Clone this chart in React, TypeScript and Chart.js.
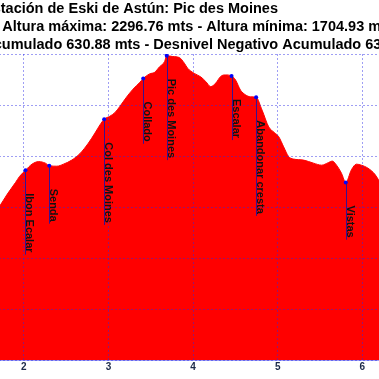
import React, { useEffect, useRef } from 'react';
import { Chart, registerables } from 'chart.js';

Chart.register(...registerables);

const titleLines = [
  'Estación de Eski de Astún: Pic des Moines',
  'Distancia: 7.0 km. - Altura máxima: 2296.76 mts - Altura mínima: 1704.93 mts',
  'Total Desnivel Positivo Acumulado 630.88 mts - Desnivel Negativo Acumulado 630.88 mts',
];

const distanceKm = [
  0, 0.25, 0.5, 0.75, 1.0, 1.25, 1.5, 1.707, 1.804, 1.902, 1.95, 2.02, 2.097, 2.176, 2.255, 2.301,
  2.391, 2.469, 2.567, 2.665, 2.762, 2.841, 2.9, 2.95, 3.017, 3.076, 3.134, 3.212, 3.29, 3.369, 3.411,
  3.486, 3.545, 3.604, 3.663, 3.689, 3.76, 3.838, 3.897, 3.936, 4.014, 4.092, 4.15, 4.209, 4.268, 4.326,
  4.381, 4.455, 4.502, 4.561, 4.619, 4.678, 4.745, 4.815, 4.894, 4.96, 5.011, 5.07, 5.128, 5.187, 5.304,
  5.422, 5.519, 5.598, 5.645, 5.695, 5.754, 5.804, 5.871, 5.93, 5.988, 6.067, 6.153, 6.3, 6.45, 6.6,
  6.75, 6.9, 7.0,
];

const elevationM = [
  1705.4, 1748, 1792, 1836, 1880, 1922, 1962, 2000, 2025, 2048, 2060, 2072, 2084, 2089, 2086, 2081,
  2080, 2084, 2092, 2105, 2125, 2145, 2161, 2172, 2178, 2185, 2197, 2215, 2231, 2244, 2252,
  2261, 2264, 2275, 2285, 2296.76, 2295, 2293, 2282, 2272, 2262, 2255, 2246, 2236, 2243, 2256,
  2259, 2257, 2249, 2229, 2220, 2216, 2215, 2190, 2157, 2146, 2138, 2118, 2099, 2094, 2092,
  2086, 2082, 2087, 2090, 2082, 2066, 2048, 2073, 2084, 2082, 2076, 2063, 2018, 1960, 1890,
  1815, 1750, 1704.93,
];

const waypointNames = [
  'Ibon Ecalar', 'Senda', 'Col des Moines', 'Collado', 'Pic des Moines', 'Escalar', 'Abandonar cresta', 'Vistas',
];
const waypointKm = [2.02, 2.301, 2.95, 3.411, 3.689, 4.455, 4.745, 5.804];
const waypointElev = [2072, 2081, 2172, 2252, 2296.76, 2257, 2215, 2048];

const distanceMin = 0;
const distanceMax = 7;
const distanceStep = 1;
const elevationMin = 1700;
const elevationMax = 2300;
const elevationStep = 100;

const GRID = 'rgba(40, 40, 230, 0.45)';
const FONT = "'Liberation Sans', Arial, Helvetica, sans-serif";

const waypointPlugin = {
  id: 'waypointLabels',
  afterDraw(chart: any) {
    const ctx = chart.ctx;
    const xs = chart.scales.x;
    const ys = chart.scales.y;
    ctx.save();
    ctx.font = `bold 11px ${FONT}`;
    waypointNames.forEach((name, i) => {
      const px = xs.getPixelForValue(waypointKm[i]);
      const py = ys.getPixelForValue(waypointElev[i]);
      const w = ctx.measureText(name).width;
      const offset = 23;
      ctx.strokeStyle = 'rgba(20, 20, 170, 0.85)';
      ctx.lineWidth = 1;
      ctx.beginPath();
      ctx.moveTo(Math.round(px) + 0.5, py);
      ctx.lineTo(Math.round(px) + 0.5, py + offset + w + 2);
      ctx.stroke();
      ctx.save();
      ctx.translate(Math.round(px) + 1, py + offset);
      ctx.rotate(Math.PI / 2);
      ctx.fillStyle = '#111111';
      ctx.textAlign = 'left';
      ctx.textBaseline = 'alphabetic';
      ctx.fillText(name, 0, 0);
      ctx.restore();
    });
    ctx.restore();
  },
};

export default function App() {
  const canvasRef = useRef<HTMLCanvasElement | null>(null);

  useEffect(() => {
    if (!canvasRef.current) return;
    const profile = distanceKm.map((d, i) => ({ x: d, y: elevationM[i] }));
    const points = waypointKm.map((d, i) => ({ x: d, y: waypointElev[i] }));
    const chart = new Chart(canvasRef.current, {
      type: 'line',
      data: {
        datasets: [
          {
            label: 'Puntos',
            data: points,
            showLine: false,
            pointRadius: 2,
            pointBackgroundColor: '#0000ff',
            pointBorderWidth: 0,
            order: 0,
          },
          {
            label: 'Altura',
            data: profile,
            fill: 'start',
            backgroundColor: '#ff0000',
            borderColor: '#ff0000',
            borderWidth: 1,
            pointRadius: 0,
            cubicInterpolationMode: 'monotone',
            order: 1,
          },
        ],
      },
      options: {
        animation: false,
        responsive: false,
        devicePixelRatio: 1,
        layout: { padding: 0 },
        plugins: {
          legend: { display: false },
          tooltip: { enabled: false },
          title: {
            display: true,
            text: titleLines,
            color: '#000000',
            align: 'center',
            font: { family: FONT, size: 14.5, weight: 'bold', lineHeight: 17.8 / 14.5 },
            padding: { top: 0.5, bottom: 0.1 },
          },
        },
        scales: {
          x: {
            type: 'linear',
            min: distanceMin,
            max: distanceMax,
            ticks: {
              stepSize: distanceStep,
              includeBounds: false,
              color: '#1c2a48',
              font: { family: FONT, size: 10, weight: 'bold' },
              padding: 1,
              maxRotation: 0,
            },
            grid: { color: GRID, drawTicks: false, z: 1 },
            border: { display: true, color: GRID, dash: [2, 2], z: 1 },
            afterFit: (scale: any) => {
              scale.height = 19;
            },
          },
          y: {
            type: 'linear',
            min: elevationMin,
            max: elevationMax,
            ticks: {
              stepSize: elevationStep,
              color: '#1c2a48',
              font: { family: FONT, size: 10, weight: 'bold' },
            },
            grid: { color: GRID, drawTicks: false, z: 1 },
            border: { display: true, color: GRID, dash: [2, 2], z: 1 },
            afterFit: (scale: any) => {
              scale.width = 44.5;
            },
          },
        },
      },
      plugins: [waypointPlugin],
    });
    return () => chart.destroy();
  }, []);

  return (
    <div
      style={{
        position: 'fixed',
        left: 0,
        top: 0,
        width: 379,
        height: 379,
        overflow: 'hidden',
        background: '#ffffff',
      }}
    >
      <canvas
        ref={canvasRef}
        width={641}
        height={379}
        style={{ position: 'absolute', left: -190, top: 0, width: 641, height: 379 }}
      />
    </div>
  );
}
